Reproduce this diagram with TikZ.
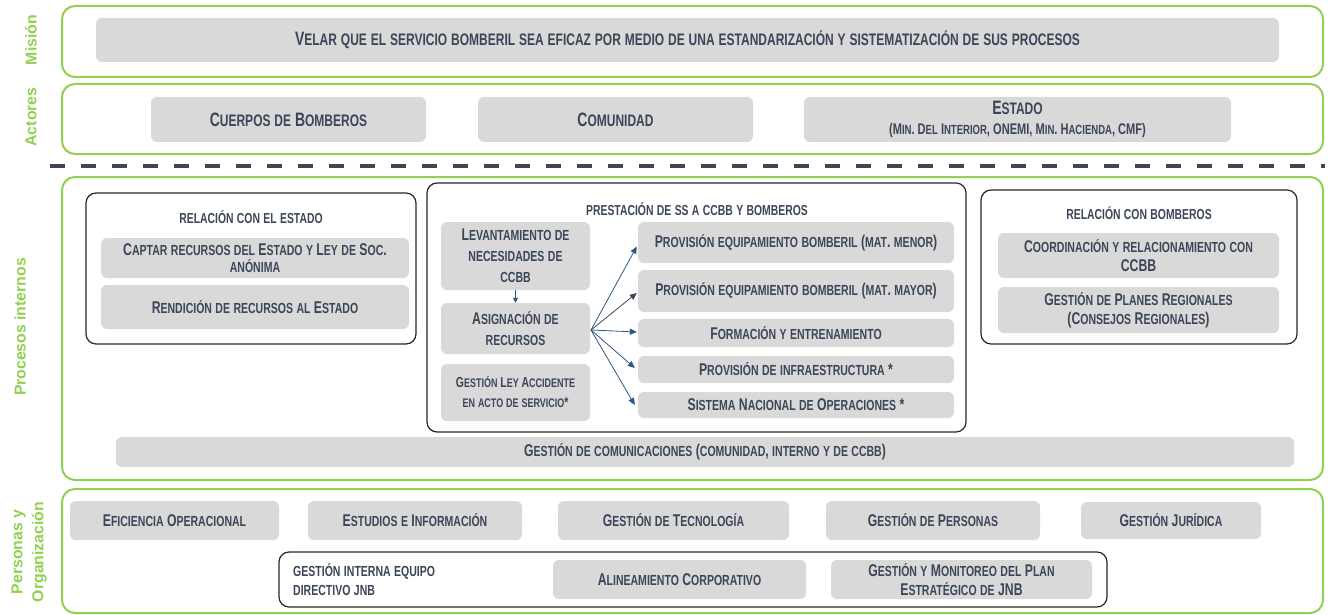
\documentclass[tikz,border=0pt]{standalone}
\usepackage{fontspec}
\setmainfont{Liberation Sans}[FakeStretch=0.72]
\newfontfamily\lblfont{Liberation Sans}
\usetikzlibrary{arrows.meta}
\definecolor{mygreen}{HTML}{92D050}
\definecolor{boxgray}{HTML}{D9D9D9}
\definecolor{txt}{HTML}{3B4658}
\definecolor{framec}{HTML}{262626}
\definecolor{arrowblue}{HTML}{2A5783}
\definecolor{dashc}{HTML}{3F4756}

\ExplSyntaxOn
\tl_new:N \l_fsc_tl
\fp_new:N \l_fsc_ratio_fp
\fp_set:Nn \l_fsc_ratio_fp {0.86}
\cs_new:Npn \fscsp {}
\NewDocumentCommand \fsc { m }
 {
  \tl_set:Nn \l_fsc_tl {#1}
  \tl_replace_all:Nnn \l_fsc_tl {~} {\fscsp}
  \tl_map_inline:Nn \l_fsc_tl
   {
    \str_if_eq:nnTF {##1} {\fscsp}
     { \c_space_tl }
     {
      \str_if_eq:eeTF {##1} {\text_uppercase:n {##1}}
       {##1}
       { { \fontsize { \fp_eval:n { \use:c {f@size} * \l_fsc_ratio_fp } } {0} \selectfont \text_uppercase:n {##1} } }
     }
   }
 }
\ExplSyntaxOff

\newcommand\bx[7][]{\node[gbox,#1,minimum width={#4-#2},minimum height={#5-#3}] (#6) at ({(#2+#4)/2},{(#3+#5)/2}) {#7};}
\newcommand\fr[6][]{\node[#1,minimum width={#4-#2},minimum height={#5-#3}] (#6) at ({(#2+#4)/2},{(#3+#5)/2}) {};}

\begin{document}
\begin{tikzpicture}[x=1pt,y=-1pt,
  gbox/.style={fill=boxgray, rounded corners=6pt, text=txt, align=center, inner sep=0pt, font=\bfseries\fontsize{17}{21}\selectfont},
  gfr/.style={draw=mygreen, line width=2pt, rounded corners=13pt, inner sep=0pt},
  dfr/.style={draw=framec, line width=1.2pt, rounded corners=10pt, inner sep=0pt},
  lbl/.style={text=mygreen, font=\lblfont\bfseries\fontsize{15.8}{21}\selectfont, rotate=90, align=center},
  ttl/.style={text=txt, font=\bfseries\fontsize{16.8}{18}\selectfont, inner sep=0pt},
  big/.style={font=\bfseries\fontsize{19.4}{22}\selectfont},
  small/.style={font=\bfseries\fontsize{14.5}{20}\selectfont},
  arr/.style={draw=arrowblue, line width=0.8pt, -{Triangle[length=7pt,width=6pt]}},
  dashline/.style={draw=dashc, line width=3.5pt, dash pattern=on 15pt off 16pt}
]
\useasboundingbox (0,0) rectangle (1330,615);

% labels
\node[lbl] (lmis) at (31,40) {Misión};
\node[lbl] (lact) at (31,117) {Actores};
\node[lbl] (lproc) at (20,327) {Procesos internos};
\node[lbl] (lper) at (29,552) {Personas y\\Organización};

% Mision
\fr[gfr]{62}{6}{1323}{77}{fmis}
\bx[big]{96}{18}{1279}{62}{mis}{\fsc{Velar que el servicio bomberil sea eficaz por medio de una estandarización y sistematización de sus procesos}}

% Actores
\fr[gfr]{62}{84}{1323}{154}{fact}
\bx[big]{151}{97}{426}{142}{cb}{\fsc{Cuerpos de Bomberos}}
\bx[big]{478}{97}{753}{142}{com}{\fsc{Comunidad}}
\bx[big]{804}{97}{1231}{142}{est}{\fsc{Estado}\\[-2pt]{\fontsize{15.4}{17}\selectfont\fsc{(Min. Del Interior, ONEMI, Min. Hacienda, CMF)}}}

% dashed
\coordinate (d1) at (50,166);
\coordinate (d2) at (1325,166);
\draw[dashline] (d1) -- (d2);

% Procesos internos
\fr[gfr]{62}{177}{1323}{480}{fproc}

\fr[dfr]{86}{193}{416}{344}{fre}
\node[ttl] (tre) at (251,217) {\fsc{relación con el estado}};
\bx{101}{238}{409}{278}{cap}{\fsc{Captar recursos del Estado y Ley de Soc.}\\[-4pt]\fsc{anónima}}
\bx{101}{285}{409}{329}{ren}{\fsc{Rendición de recursos al Estado}}

\fr[dfr]{427}{183}{966}{432}{fps}
\node[ttl] (tps) at (697,209) {\fsc{prestación de ss a ccbb y bomberos}};
\bx{441}{222}{590}{290}{lev}{\fsc{Levantamiento de}\\\fsc{necesidades de}\\\fsc{ccbb}}
\bx{441}{303}{590}{354}{asig}{\fsc{Asignación de}\\\fsc{recursos}}
\bx[small]{441}{364}{590}{421}{gla}{\fsc{Gestión Ley Accidente}\\\fsc{en acto de servicio*}}
\bx{638}{222}{954}{263}{pmen}{\fsc{Provisión equipamiento bomberil (mat. menor)}}
\bx{638}{270}{954}{312}{pmay}{\fsc{Provisión equipamiento bomberil (mat. mayor)}}
\bx{638}{319}{954}{347}{form}{\fsc{Formación y entrenamiento}}
\bx{638}{356}{954}{383}{pinf}{\fsc{Provisión de infraestructura *}}
\bx{638}{392}{954}{418}{sno}{\fsc{Sistema Nacional de Operaciones *}}

\draw[arr, -{Triangle[length=5pt,width=5pt]}] (lev.south) -- (asig.north);
\coordinate (src) at (591,330);
\draw[arr] (src) -- ([yshift=-4pt,xshift=-1pt]pmen.west);
\draw[arr, draw=dashc] (src) -- ([yshift=-2pt,xshift=-1pt]pmay.west);
\draw[arr] (src) -- ([yshift=1pt,xshift=-1pt]form.west);
\draw[arr] (src) -- ([yshift=1.5pt,xshift=-3pt]pinf.west);
\draw[arr] (src) -- ([yshift=0pt,xshift=-3pt]sno.west);

\fr[dfr]{981}{190}{1297}{344}{frb}
\node[ttl] (trb) at (1139,213) {\fsc{relación con bomberos}};
\bx{998}{233}{1279}{278}{coo}{\fsc{Coordinación y relacionamiento con}\\[-2pt]CCBB}
\bx{998}{287}{1279}{333}{gpr}{\fsc{Gestión de Planes Regionales}\\[-2pt]\fsc{(Consejos Regionales)}}

\bx{116}{437}{1294}{467}{gcom}{\fsc{Gestión de comunicaciones (comunidad, interno y de ccbb)}}

% Personas y Organizacion
\fr[gfr]{62}{489}{1323}{613}{fper}
\bx{70}{501}{279}{540}{efi}{\fsc{Eficiencia Operacional}}
\bx{308}{501}{522}{540}{estu}{\fsc{Estudios e Información}}
\bx{558}{501}{789}{540}{gtec}{\fsc{Gestión de Tecnología}}
\bx{826}{501}{1040}{540}{gper}{\fsc{Gestión de Personas}}
\bx{1081}{502}{1261}{539}{gjur}{\fsc{Gestión Jurídica}}

\fr[dfr]{279}{552}{1107}{607}{fgi}
\node[text=txt, font=\bfseries\fontsize{17}{19}\selectfont, anchor=west, align=left, inner sep=0pt] (gie) at (293,580) {\fsc{gestión interna equipo}\\\fsc{directivo jnb}};
\bx{553}{560}{806}{599}{alin}{\fsc{Alineamiento Corporativo}}
\bx{831}{560}{1092}{599}{gmon}{\fsc{Gestión y Monitoreo del Plan}\\[-2pt]\fsc{Estratégico de JNB}}
\end{tikzpicture}
\end{document}
